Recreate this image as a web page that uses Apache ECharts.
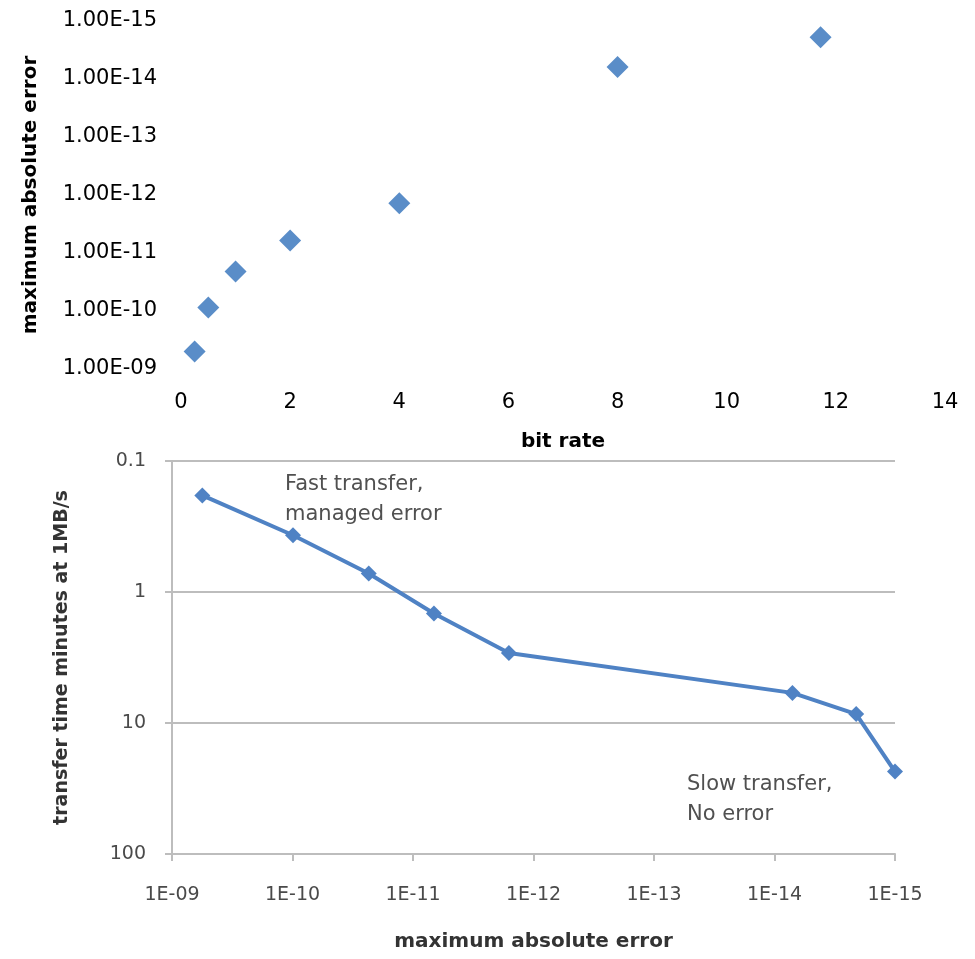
<!DOCTYPE html>
<html>
<head>
<meta charset="utf-8">
<script src="https://cdn.jsdelivr.net/npm/echarts@6/dist/echarts.min.js"></script>
<style>
html,body{margin:0;padding:0;background:#fff;}
#chart{width:975px;height:959px;}
</style>
</head>
<body>
<div id="chart"></div>
<script>
// Top chart: bit rate vs maximum absolute error
const bitRate = [0.25, 0.5, 1, 2, 4, 8, 11.72];
const maxErrorTop = [4.98e-10, 8.7e-11, 2.09e-11, 6.1e-12, 1.39e-12, 6.2e-15, 1.9e-15];
const topXTicks = [0, 2, 4, 6, 8, 10, 12, 14];

// Bottom chart: maximum absolute error vs transfer time
const maxErrorBottom = [5.6e-10, 9.9e-11, 2.33e-11, 6.7e-12, 1.6e-12, 7.1e-15, 2.1e-15, 1.0e-15];
const transferMinutes = [0.183, 0.369, 0.723, 1.46, 2.92, 5.89, 8.55, 23.5];
const bottomYTicks = ['0.1', '1', '10', '100'];

const annotations = [
  {lines: ['Fast transfer,', 'managed error'], x: 285, y: 470},
  {lines: ['Slow transfer,', 'No error'], x: 687, y: 770}
];

const FONT = 'DejaVu Sans';
const blue = '#5a8dc8';
const lineBlue = '#4f82c4';
const gridGray = '#bdbdbd';
const textGray = '#4a4a4a';

function expLabel(v, prefix) {
  const e = Math.round(Math.log10(v));
  const s = String(Math.abs(e)).padStart(2, '0');
  return prefix + (e < 0 ? '-' : '+') + s;
}

const chart = echarts.init(document.getElementById('chart'), null, {renderer: 'canvas'});

chart.setOption({
  backgroundColor: '#ffffff',
  animation: false,
  grid: [
    {left: 181, right: 30, top: 21, height: 348, containLabel: false},
    {left: 172, right: 80, top: 461, height: 393, containLabel: false}
  ],
  xAxis: [
    {
      gridIndex: 0, type: 'value', min: 0, max: 14, interval: 2,
      name: 'bit rate', nameLocation: 'middle', nameGap: 63,
      nameTextStyle: {fontFamily: FONT, fontWeight: 'bold', fontSize: 20, color: '#000'},
      axisLine: {show: false}, axisTick: {show: false}, splitLine: {show: false},
      axisLabel: {fontFamily: FONT, fontSize: 21, color: '#000', margin: 23,
        formatter: v => topXTicks.includes(v) ? String(v) : ''}
    },
    {
      gridIndex: 1, type: 'log', logBase: 10, min: 1e-15, max: 1e-9, inverse: true,
      name: 'maximum absolute error', nameLocation: 'middle', nameGap: 78,
      nameTextStyle: {fontFamily: FONT, fontWeight: 'bold', fontSize: 20, color: '#333'},
      axisLine: {show: true, lineStyle: {color: gridGray, width: 2}},
      axisTick: {show: true, length: 7, lineStyle: {color: gridGray, width: 2}},
      splitLine: {show: false},
      axisLabel: {fontFamily: FONT, fontSize: 19, color: textGray, margin: 32,
        formatter: v => expLabel(v, '1E')}
    }
  ],
  yAxis: [
    {
      gridIndex: 0, type: 'log', logBase: 10, min: 1e-15, max: 1e-9, inverse: true,
      name: 'maximum absolute error', nameLocation: 'middle', nameGap: 140,
      nameTextStyle: {fontFamily: FONT, fontWeight: 'bold', fontSize: 20, color: '#000'},
      axisLine: {show: false}, axisTick: {show: false}, splitLine: {show: false},
      axisLabel: {fontFamily: FONT, fontSize: 21, color: '#000', margin: 24,
        formatter: v => expLabel(v, '1.00E')}
    },
    {
      gridIndex: 1, type: 'log', logBase: 10, min: 0.1, max: 100, inverse: true,
      name: 'transfer time minutes at 1MB/s', nameLocation: 'middle', nameGap: 100,
      nameTextStyle: {fontFamily: FONT, fontWeight: 'bold', fontSize: 19, color: '#333'},
      axisLine: {show: true, lineStyle: {color: gridGray, width: 2}},
      axisTick: {show: true, length: 7, lineStyle: {color: gridGray, width: 2}},
      splitLine: {show: true, lineStyle: {color: gridGray, width: 2}},
      axisLabel: {fontFamily: FONT, fontSize: 19, color: textGray, margin: 26,
        formatter: v => {
          const e = Math.round(Math.log10(v));
          return bottomYTicks[e + 1];
        }}
    }
  ],
  series: [
    {
      type: 'scatter', xAxisIndex: 0, yAxisIndex: 0,
      symbol: 'diamond', symbolSize: 22,
      itemStyle: {color: blue, opacity: 1},
      data: bitRate.map((b, i) => [b, maxErrorTop[i]])
    },
    {
      type: 'line', xAxisIndex: 1, yAxisIndex: 1,
      symbol: 'diamond', symbolSize: 16,
      lineStyle: {color: lineBlue, width: 4},
      itemStyle: {color: lineBlue, opacity: 1},
      data: maxErrorBottom.map((e, i) => [e, transferMinutes[i]])
    }
  ],
  graphic: annotations.map(a => ({
    type: 'text', left: a.x, top: a.y,
    style: {text: a.lines.join('\n'), fontFamily: FONT, fontSize: 21, lineHeight: 30, fill: '#505050'}
  }))
});
</script>
</body>
</html>
